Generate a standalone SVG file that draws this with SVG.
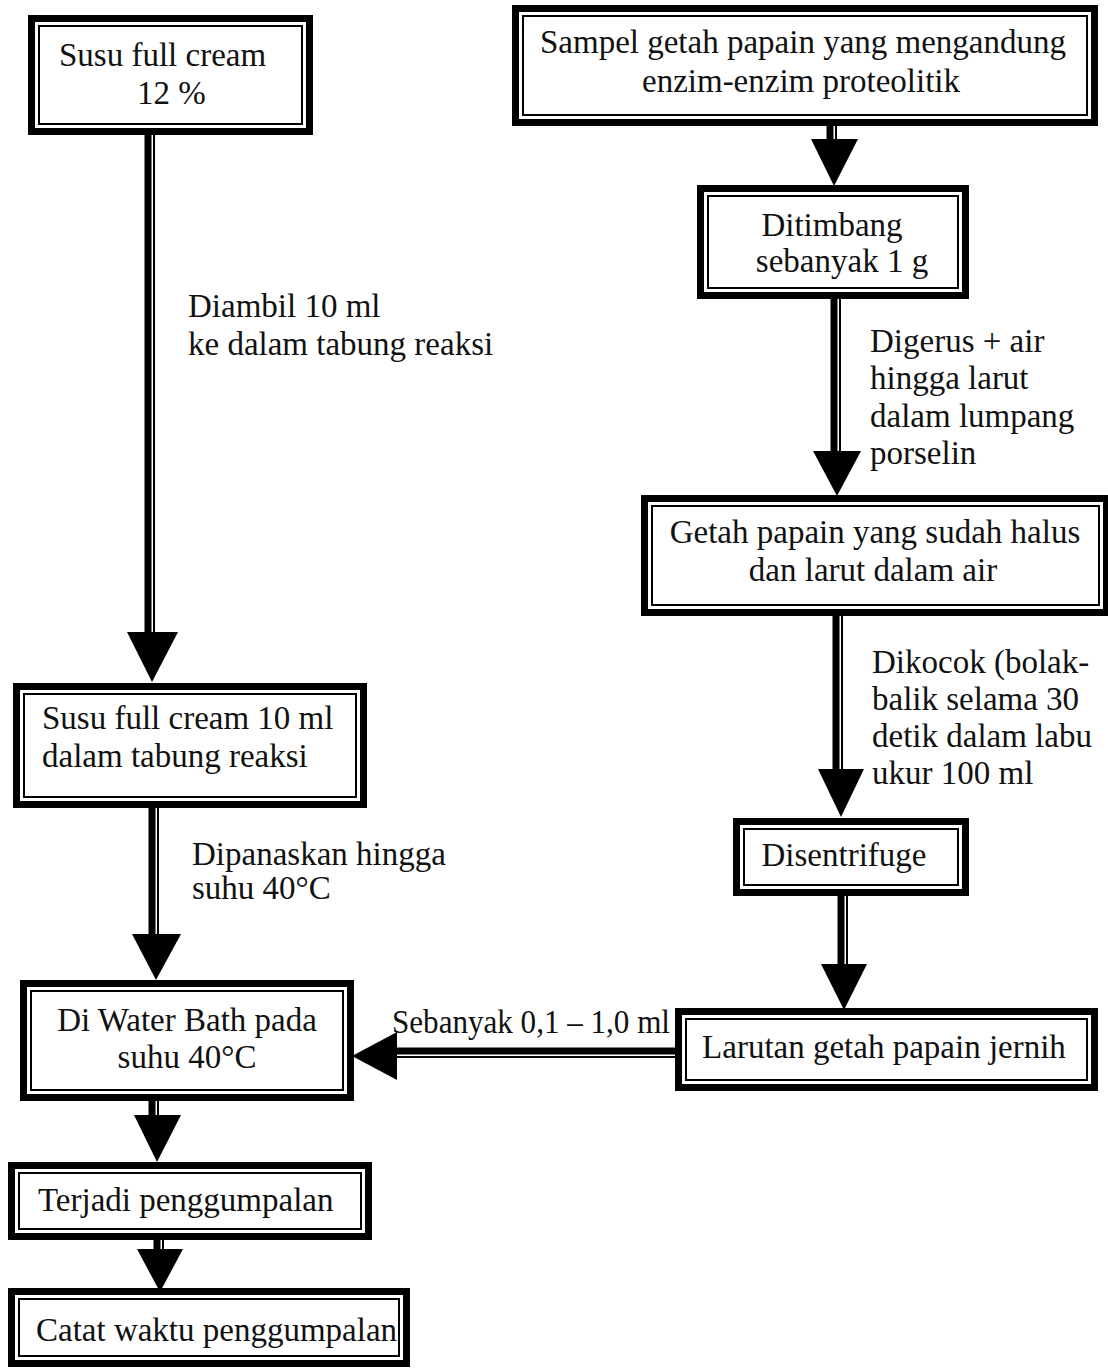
<svg xmlns="http://www.w3.org/2000/svg" width="1108" height="1368" viewBox="0 0 1108 1368">
<style>
.o{fill:none;stroke:#000;stroke-width:7}
.i{fill:none;stroke:#000;stroke-width:2}
.t{font-family:"Liberation Serif","Times New Roman",serif;font-size:33px;fill:#111}
.c{text-anchor:middle}
.sk{stroke:#000;stroke-width:7}
.sn{stroke:#000;stroke-width:2}
.hd{fill:#000}
</style>
<rect width="1108" height="1368" fill="#fff"/>
<g id="connectors">
  <g id="e1"><line class="sk" x1="148" y1="132" x2="148" y2="636"/><line class="sn" x1="154" y1="132" x2="154" y2="636"/><polygon class="hd" points="127,632 178,632 152,682"/></g>
  <g id="e2"><line class="sk" x1="152" y1="806" x2="152" y2="938"/><line class="sn" x1="158" y1="806" x2="158" y2="938"/><polygon class="hd" points="132,934 181,934 156,980"/></g>
  <g id="e3"><line class="sk" x1="152" y1="1098" x2="152" y2="1118"/><line class="sn" x1="158" y1="1098" x2="158" y2="1118"/><polygon class="hd" points="134,1115 181,1115 157,1162"/></g>
  <g id="e4"><line class="sk" x1="157" y1="1238" x2="157" y2="1252"/><line class="sn" x1="163" y1="1238" x2="163" y2="1252"/><polygon class="hd" points="137,1249 183,1249 160,1292"/></g>
  <g id="e5"><line class="sk" x1="830" y1="122" x2="830" y2="142"/><line class="sn" x1="836" y1="122" x2="836" y2="142"/><polygon class="hd" points="811,139 858,139 834,186"/></g>
  <g id="e6"><line class="sk" x1="834" y1="296" x2="834" y2="455"/><line class="sn" x1="840" y1="296" x2="840" y2="455"/><polygon class="hd" points="813,451 861,451 837,496"/></g>
  <g id="e7"><line class="sk" x1="836" y1="613" x2="836" y2="773"/><line class="sn" x1="842" y1="613" x2="842" y2="773"/><polygon class="hd" points="818,769 864,769 841,817"/></g>
  <g id="e8"><line class="sk" x1="841" y1="893" x2="841" y2="968"/><line class="sn" x1="847" y1="893" x2="847" y2="968"/><polygon class="hd" points="821,964 867,964 844,1010"/></g>
  <g id="e9"><line class="sk" x1="677" y1="1051" x2="392" y2="1051"/><line class="sn" x1="677" y1="1057" x2="392" y2="1057"/><polygon class="hd" points="397,1032 397,1080 352,1056"/></g>
  <text class="t" x="188" y="317">Diambil 10 ml</text>
  <text class="t" x="188" y="355">ke dalam tabung reaksi</text>
  <text class="t" x="192" y="865">Dipanaskan hingga</text>
  <text class="t" x="192" y="899">suhu 40°C</text>
  <text class="t" x="870" y="352">Digerus + air</text>
  <text class="t" x="870" y="389">hingga larut</text>
  <text class="t" x="870" y="427">dalam lumpang</text>
  <text class="t" x="870" y="464">porselin</text>
  <text class="t" x="872" y="673">Dikocok (bolak-</text>
  <text class="t" x="872" y="710">balik selama 30</text>
  <text class="t" x="872" y="747">detik dalam labu</text>
  <text class="t" x="872" y="784">ukur 100 ml</text>
  <text class="t" x="392" y="1033" textLength="278" lengthAdjust="spacingAndGlyphs">Sebanyak 0,1 – 1,0 ml</text>
</g>
<g id="nA"><rect class="o" x="31.5" y="18.5" width="278" height="113"/><rect class="i" x="39" y="26" width="263" height="98"/>
  <text class="t" x="59" y="66">Susu full cream</text><text class="t" x="137" y="104">12 %</text></g>
<g id="nB"><rect class="o" x="16.5" y="686.5" width="347" height="118"/><rect class="i" x="24" y="694" width="332" height="103"/>
  <text class="t" x="42" y="729">Susu full cream 10 ml</text><text class="t" x="42" y="767">dalam tabung reaksi</text></g>
<g id="nC"><rect class="o" x="23.5" y="983.5" width="327" height="114"/><rect class="i" x="31" y="991" width="312" height="99"/>
  <text class="t c" x="187" y="1031">Di Water Bath pada</text><text class="t c" x="187" y="1068">suhu 40°C</text></g>
<g id="nD"><rect class="o" x="11.5" y="1165.5" width="357" height="71"/><rect class="i" x="19" y="1173" width="342" height="56"/>
  <text class="t" x="38" y="1211">Terjadi penggumpalan</text></g>
<g id="nE"><rect class="o" x="11.5" y="1291.5" width="395" height="72"/><rect class="i" x="19" y="1299" width="380" height="57"/>
  <text class="t" x="36" y="1341">Catat waktu penggumpalan</text></g>
<g id="nF"><rect class="o" x="515.5" y="8.5" width="579" height="114"/><rect class="i" x="523" y="16" width="564" height="99"/>
  <text class="t c" x="803" y="53">Sampel getah papain yang mengandung</text><text class="t c" x="801" y="92">enzim-enzim proteolitik</text></g>
<g id="nG"><rect class="o" x="700.5" y="188.5" width="265" height="107"/><rect class="i" x="708" y="196" width="250" height="92"/>
  <text class="t c" x="832" y="236">Ditimbang</text><text class="t c" x="842" y="272">sebanyak 1 g</text></g>
<g id="nH"><rect class="o" x="644.5" y="498.5" width="462" height="114"/><rect class="i" x="652" y="506" width="447" height="99"/>
  <text class="t c" x="875" y="543">Getah papain yang sudah halus</text><text class="t c" x="873" y="581">dan larut dalam air</text></g>
<g id="nI"><rect class="o" x="736.5" y="821.5" width="229" height="71"/><rect class="i" x="744" y="829" width="214" height="56"/>
  <text class="t c" x="844" y="866">Disentrifuge</text></g>
<g id="nJ"><rect class="o" x="678.5" y="1011.5" width="416" height="76"/><rect class="i" x="686" y="1019" width="401" height="61"/>
  <text class="t c" x="884" y="1058">Larutan getah papain jernih</text></g>
</svg>
